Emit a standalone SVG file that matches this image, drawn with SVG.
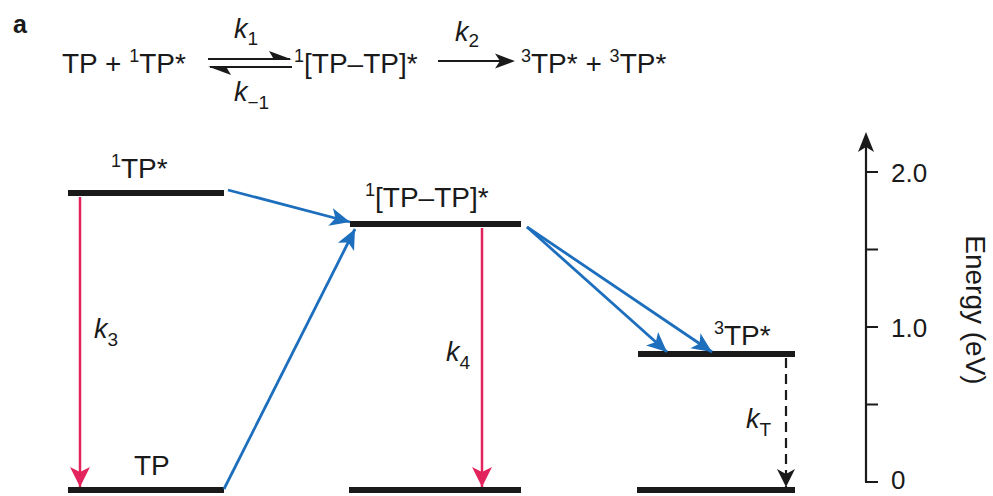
<svg xmlns="http://www.w3.org/2000/svg" width="993" height="496" viewBox="0 0 993 496">
<defs>
<style>
text{font-family:"Liberation Sans",Arial,Helvetica,sans-serif;fill:#1a1a1a}
.lbl{font-size:28px}
.k{font-size:27px;font-style:italic}
.sub{font-size:19px;font-style:normal}
.sup{font-size:18px}
.ax{font-size:26px}
.bar{stroke:#1a1a1a;stroke-width:6;fill:none}
.red{stroke:#e3245c;stroke-width:2.5;fill:none}
.blue{stroke:#1d6fbe;stroke-width:2.8;fill:none}
.blk{stroke:#1a1a1a;stroke-width:2.2;fill:none}
</style>
<marker id="ar" viewBox="-22 -11 22 22" refX="0" refY="0" markerWidth="22" markerHeight="22" markerUnits="userSpaceOnUse" orient="auto"><path d="M0,0 L-20,-10 L-15,0 L-20,10 Z" fill="#e3245c"/></marker>
<marker id="ab" viewBox="-22 -11 22 22" refX="0" refY="0" markerWidth="22" markerHeight="22" markerUnits="userSpaceOnUse" orient="auto"><path d="M0,0 L-20,-9 L-15,0 L-20,9 Z" fill="#1d6fbe"/></marker>
<marker id="ak" viewBox="-22 -11 22 22" refX="0" refY="0" markerWidth="22" markerHeight="22" markerUnits="userSpaceOnUse" orient="auto"><path d="M0,0 L-18,-9 L-13,0 L-18,9 Z" fill="#1a1a1a"/></marker>
</defs>

<!-- reaction equation -->
<g id="equation">
<text x="13" y="33" style="font-size:25px;font-weight:bold">a</text>
<text class="lbl" x="62" y="73">TP + <tspan class="sup" dy="-11">1</tspan><tspan dy="11">TP*</tspan></text>
<line x1="208" y1="59" x2="290" y2="59" class="blk"/>
<path d="M292,59.5 L269,51 L274,59.5 Z" fill="#1a1a1a"/>
<line x1="210" y1="67" x2="292" y2="67" class="blk"/>
<path d="M208,66.5 L231,75 L226,66.5 Z" fill="#1a1a1a"/>
<text class="k" x="234" y="38">k<tspan class="sub" dy="7">1</tspan></text>
<text class="k" x="234" y="101">k<tspan class="sub" dy="8">−1</tspan></text>
<text class="lbl" x="294" y="73"><tspan class="sup" dy="-11">1</tspan><tspan dy="11">[TP–TP]*</tspan></text>
<line x1="438" y1="61" x2="500" y2="61" class="blk"/>
<path d="M515,61 L495,53.5 L500,61 L495,68.5 Z" fill="#1a1a1a"/>
<text class="k" x="455" y="41">k<tspan class="sub" dy="6">2</tspan></text>
<text class="lbl" x="521" y="73"><tspan class="sup" dy="-11">3</tspan><tspan dy="11">TP* + </tspan><tspan class="sup" dy="-11">3</tspan><tspan dy="11">TP*</tspan></text>
</g>

<!-- energy levels -->
<g id="S1">
<line x1="68" y1="193" x2="224" y2="193" class="bar"/>
<text class="lbl" x="111" y="178"><tspan class="sup" dy="-11">1</tspan><tspan dy="11">TP*</tspan></text>
</g>
<g id="S0">
<line x1="68" y1="490" x2="224" y2="490" class="bar"/>
<text class="lbl" x="134" y="475">TP</text>
</g>
<g id="TT">
<line x1="350" y1="224" x2="521" y2="224" class="bar"/>
<text class="lbl" x="365" y="207"><tspan class="sup" dy="-11">1</tspan><tspan dy="11">[TP–TP]*</tspan></text>
</g>
<g id="G2">
<line x1="349" y1="490" x2="521" y2="490" class="bar"/>
</g>
<g id="T1">
<line x1="638" y1="354" x2="795" y2="354" class="bar"/>
<text class="lbl" x="714" y="345"><tspan class="sup" dy="-11">3</tspan><tspan dy="11">TP*</tspan></text>
</g>
<g id="G3">
<line x1="637" y1="490" x2="795" y2="490" class="bar"/>
</g>

<!-- connectors -->
<g id="connectors">
<line x1="80" y1="197" x2="80" y2="487" class="red" marker-end="url(#ar)"/>
<line x1="482" y1="228" x2="482" y2="487" class="red" marker-end="url(#ar)"/>
<line x1="228" y1="190" x2="350" y2="222" class="blue" marker-end="url(#ab)"/>
<line x1="224" y1="489" x2="355" y2="229" class="blue" marker-end="url(#ab)"/>
<line x1="527" y1="227" x2="667" y2="352" class="blue" marker-end="url(#ab)"/>
<line x1="527" y1="227" x2="712" y2="352" class="blue" marker-end="url(#ab)"/>
<line x1="786" y1="358" x2="786" y2="487" class="blk" stroke-width="3" stroke-dasharray="10 6" marker-end="url(#ak)"/>
<text class="k" x="94" y="338">k<tspan class="sub" dy="8">3</tspan></text>
<text class="k" x="446" y="361">k<tspan class="sub" dy="8">4</tspan></text>
<text class="k" x="746" y="428">k<tspan class="sub" dy="8">T</tspan></text>
</g>

<!-- energy axis -->
<g id="axis">
<line x1="866" y1="482" x2="866" y2="142" class="blk"/>
<path d="M866,132 L858,152 L866,147 L874,152 Z" fill="#1a1a1a"/>
<path d="M866,172 H878 M866,249.5 H878 M866,327 H878 M866,404.5 H878 M865,482 H878" class="blk"/>
<text class="ax" x="891" y="182">2.0</text>
<text class="ax" x="891" y="337">1.0</text>
<text class="ax" x="891" y="489">0</text>
<text class="ax" transform="translate(966,310) rotate(90)" text-anchor="middle" style="font-size:28px">Energy (eV)</text>
</g>
</svg>
